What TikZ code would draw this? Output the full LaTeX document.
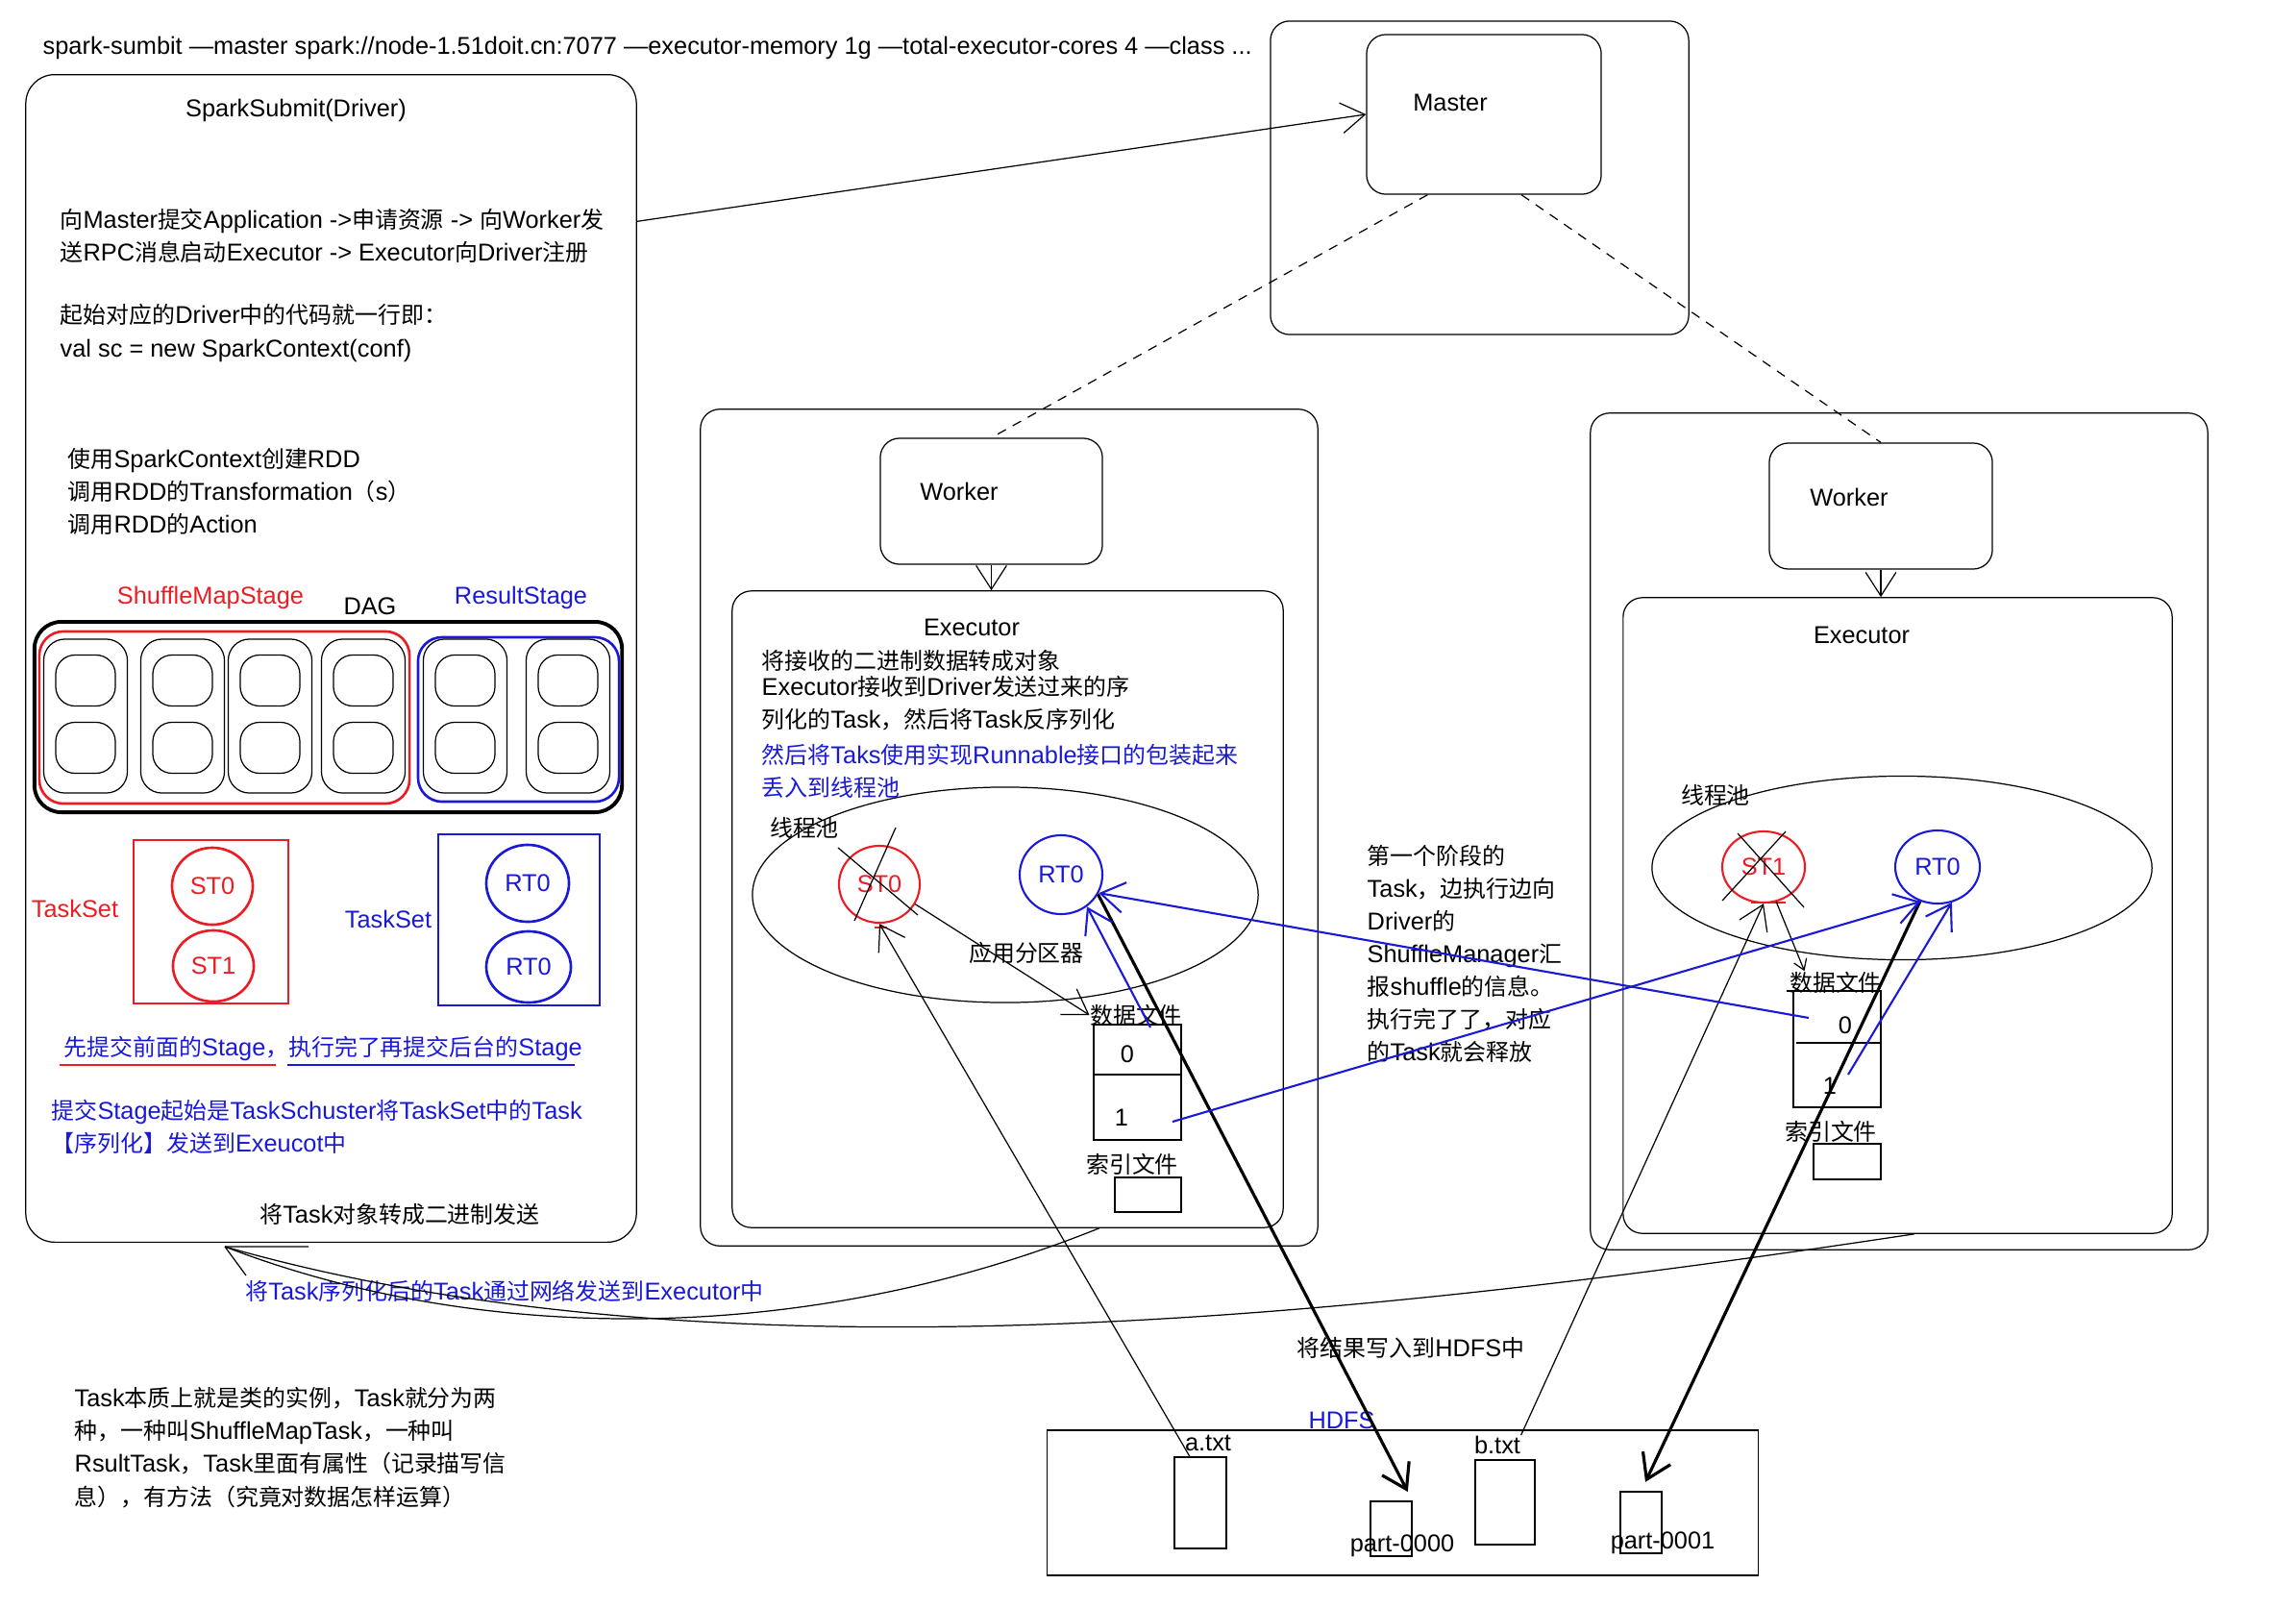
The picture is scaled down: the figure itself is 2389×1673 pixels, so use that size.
\documentclass[tikz,border=0pt]{standalone}
\usepackage{fontspec}
\setmainfont[Scale=1.06]{Liberation Sans}
\newfontfamily\latinfont[Scale=1.06]{Liberation Sans}
\newfontfamily\cjkfont{Noto Sans CJK SC}
% CJK characters switch to the CJK font
\XeTeXinterchartokenstate=1
\newXeTeXintercharclass\cjkclass
\makeatletter
\count@="3000
\loop
  \XeTeXcharclass\count@=\cjkclass
  \advance\count@ by 1
\ifnum\count@<"A000 \repeat
\count@="FF00
\loop
  \XeTeXcharclass\count@=\cjkclass
  \advance\count@ by 1
\ifnum\count@<"FFF0 \repeat
\makeatother
\XeTeXinterchartoks 0 \cjkclass = {\cjkfont}
\XeTeXinterchartoks 4095 \cjkclass = {\cjkfont}
\XeTeXinterchartoks \cjkclass 0 = {\latinfont}
\XeTeXinterchartoks \cjkclass 4095 = {\latinfont}
\usetikzlibrary{shapes.geometric, arrows.meta, positioning}
\definecolor{stagered}{RGB}{236,28,36}
\definecolor{stageblue}{RGB}{25,25,215}

\begin{document}
\begin{tikzpicture}[
    x=0.01cm, y=-0.01cm,
    font=\fontsize{6.8}{9.7}\selectfont,
    fine/.style={line width=0.35pt},
    frame/.style={draw, fine, rounded corners=0.2cm, inner sep=0pt},
    filebox/.style={draw, fine, inner sep=0pt},
    txt/.style={inner sep=0pt, anchor=west, align=left},
    lbl/.style={inner sep=0pt},
    stagebox/.style={draw, line width=0.75pt, rounded corners=0.25cm, inner sep=0pt},
    col/.style={draw, fine, rounded corners=0.22cm, inner sep=0pt, minimum width=0.87cm, minimum height=1.6cm},
    cell/.style={draw, fine, rounded corners=0.2cm, inner sep=0pt, minimum width=0.62cm, minimum height=0.53cm},
    task/.style={ellipse, draw, line width=0.75pt, inner sep=0pt},
    pool/.style={ellipse, draw, fine, inner sep=0pt},
    barb/.style={-{Straight Barb[length=7pt,width=9pt]}},
    masterlink/.style={fine, dash pattern=on 2.8pt off 2.3pt},
    report/.style={stageblue, line width=0.6pt, barb},
    result/.style={line width=0.9pt, barb, shorten >=3pt}
]
    \useasboundingbox (0,0) rectangle (2389,1673);

    % command line
    \node[txt] (cmd) at (44,50) {spark-sumbit —master spark://node-1.51doit.cn:7077 —executor-memory 1g —total-executor-cores 4 —class ...};

    % Driver
    \node[frame, rounded corners=0.3cm, minimum width=6.35cm, minimum height=12.14cm] (driver) at (344.5,685) {};
    \node[lbl] (drvtitle) at (308,115) {SparkSubmit(Driver)};
    \node[txt] (drvsteps) at (62,245) {向Master提交Application ->申请资源 -> 向Worker发\\送RPC消息启动Executor -> Executor向Driver注册};
    \node[txt] (drvcode) at (62,346.5) {起始对应的Driver中的代码就一行即：\\val sc = new SparkContext(conf)};
    \node[txt] (drvrdd) at (70,511.5) {使用SparkContext创建RDD\\调用RDD的Transformation（s）\\调用RDD的Action};

    % DAG
    \node[stagebox, line width=1.1pt, rounded corners=0.28cm, minimum width=6.11cm, minimum height=1.98cm] (dag) at (341.5,746) {};
    \node[stagebox, draw=stagered, minimum width=3.85cm, minimum height=1.79cm] (smstage) at (233.5,746.5) {};
    \node[stagebox, draw=stageblue, minimum width=2.09cm, minimum height=1.71cm] (rstage) at (539.5,748.5) {};
    \foreach \cx [count=\i] in {89,190,281,378,484,591} {
        \node[col] (col\i) at (\cx,745) {};
        \node[cell] (cellA\i) at (\cx,708) {};
        \node[cell] (cellB\i) at (\cx,778) {};
    }
    \node[lbl, text=stagered] (smlabel) at (219,622) {ShuffleMapStage};
    \node[lbl] (daglabel) at (385,631) {DAG};
    \node[lbl, text=stageblue] (rslabel) at (542,622) {ResultStage};

    % TaskSets
    \node[draw=stagered, line width=0.75pt, inner sep=0pt, minimum width=1.61cm, minimum height=1.70cm] (redset) at (219.5,959) {};
    \node[task, draw=stagered, text=stagered, minimum width=0.84cm, minimum height=0.80cm] (st0a) at (221,922) {ST0};
    \node[task, draw=stagered, text=stagered, minimum width=0.84cm, minimum height=0.74cm] (st1a) at (222,1005) {ST1};
    \node[lbl, text=stagered] (redsetlbl) at (78,945) {TaskSet};
    \node[draw=stageblue, line width=0.75pt, inner sep=0pt, minimum width=1.68cm, minimum height=1.78cm] (blueset) at (540,957) {};
    \node[task, draw=stageblue, text=stageblue, minimum width=0.86cm, minimum height=0.80cm] (rt0a) at (549,919) {RT0};
    \node[task, draw=stageblue, text=stageblue, minimum width=0.88cm, minimum height=0.74cm] (rt0b) at (550,1006) {RT0};
    \node[lbl, text=stageblue] (bluesetlbl) at (404,956) {TaskSet};

    \node[txt, text=stageblue] (order) at (66,1091) {先提交前面的Stage，执行完了再提交后台的Stage};
    \draw[stagered, line width=0.7pt] (62,1108) -- (287,1108);
    \draw[stageblue, line width=0.7pt] (299,1108) -- (598,1108);
    \node[txt, text=stageblue] (submit) at (53,1172.5) {提交Stage起始是TaskSchuster将TaskSet中的Task\\【序列化】发送到Exeucot中};
    \node[lbl] (binary) at (416,1263) {将Task对象转成二进制发送};

    % Master
    \node[frame, minimum width=4.35cm, minimum height=3.26cm] (masterarea) at (1539.5,185) {};
    \node[frame, minimum width=2.44cm, minimum height=1.66cm] (master) at (1544,119) {};
    \node[lbl] (masterlbl) at (1509,107) {Master};

    % Worker 1
    \node[frame, minimum width=6.42cm, minimum height=8.70cm] (node1) at (1050,861) {};
    \node[frame, minimum width=2.31cm, minimum height=1.31cm] (worker1) at (1031.5,521.5) {};
    \node[lbl] (worker1lbl) at (998,511) {Worker};
    \node[frame, minimum width=5.73cm, minimum height=6.62cm] (exec1) at (1048.5,946) {};
    \node[lbl] (exec1lbl) at (1011,653) {Executor};
    \node[txt] (decode) at (792,687) {将接收的二进制数据转成对象};
    \node[txt] (deser) at (792,732) {Executor接收到Driver发送过来的序\\列化的Task，然后将Task反序列化};
    \node[txt, text=stageblue] (wrap) at (792,802) {然后将Taks使用实现Runnable接口的包装起来\\丢入到线程池};
    \node[pool, minimum width=5.26cm, minimum height=2.24cm] (pool1) at (1046,931) {};
    \node[lbl] (pool1lbl) at (837,861) {线程池};
    \node[task, line width=0.6pt, draw=stagered, text=stagered, minimum width=0.84cm, minimum height=0.80cm] (st0b) at (915,920) {ST0};
    \node[task, line width=0.6pt, draw=stageblue, text=stageblue, minimum width=0.86cm, minimum height=0.82cm] (rt0c) at (1104,910) {RT0};
    \draw[fine] (872,882) -- (955,952) (932,861) -- (889,958);
    \draw[stagered, fine] (910,965) -- (923,965);
    \node[lbl] (partitioner) at (1068,991) {应用分区器};
    \node[lbl] (data1lbl) at (1182,1056) {数据文件};
    \node[filebox, minimum width=0.91cm, minimum height=1.20cm] (data1) at (1183.5,1126) {};
    \draw[fine] (1138,1118) -- (1229,1118);
    \node[lbl] (d1zero) at (1173,1097) {0};
    \node[lbl] (d1one) at (1167,1163) {1};
    \node[lbl] (index1lbl) at (1178,1211) {索引文件};
    \node[filebox, minimum width=0.69cm, minimum height=0.36cm] (index1) at (1194.5,1243) {};

    % Worker 2
    \node[frame, minimum width=6.42cm, minimum height=8.70cm] (node2) at (1976,865) {};
    \node[frame, minimum width=2.32cm, minimum height=1.31cm] (worker2) at (1957,526.5) {};
    \node[lbl] (worker2lbl) at (1924,517) {Worker};
    \node[frame, minimum width=5.71cm, minimum height=6.61cm] (exec2) at (1974.5,952.5) {};
    \node[lbl] (exec2lbl) at (1937,661) {Executor};
    \node[pool, minimum width=5.20cm, minimum height=1.91cm] (pool2) at (1979,903) {};
    \node[lbl] (pool2lbl) at (1785,827) {线程池};
    \node[task, line width=0.6pt, draw=stagered, text=stagered, minimum width=0.86cm, minimum height=0.74cm] (st1b) at (1835,902) {ST1};
    \node[task, line width=0.6pt, draw=stageblue, text=stageblue, minimum width=0.88cm, minimum height=0.76cm] (rt0d) at (2016,902) {RT0};
    \draw[fine] (1808,867) -- (1877,944) (1858,865) -- (1792,937);
    \draw[stagered, fine] (1822,939) -- (1858,939);
    \node[lbl] (data2lbl) at (1910,1022) {数据文件};
    \node[filebox, minimum width=0.91cm, minimum height=1.21cm] (data2) at (1911.5,1091.5) {};
    \draw[fine] (1859,1031) -- (1958,1031);
    \draw[fine] (1869,1085) -- (1958,1085);
    \node[lbl] (d2zero) at (1920,1067) {0};
    \node[lbl] (d2one) at (1904,1130) {1};
    \node[lbl] (index2lbl) at (1905,1177) {索引文件};
    \node[filebox, minimum width=0.70cm, minimum height=0.37cm] (index2) at (1922,1208.5) {};

    \node[txt] (shufnote) at (1422,992.5) {第一个阶段的\\Task，边执行边向\\Driver的\\ShuffleManager汇\\报shuffle的信息。\\执行完了了，对应\\的Task就会释放};

    % HDFS
    \node[filebox, minimum width=7.39cm, minimum height=1.51cm] (hdfs) at (1459.5,1563.5) {};
    \node[lbl, text=stageblue] (hdfslbl) at (1396,1478) {HDFS};
    \node[filebox, minimum width=0.54cm, minimum height=0.95cm] (atxt) at (1249,1563.5) {};
    \node[lbl] (atxtlbl) at (1257,1501) {a.txt};
    \node[filebox, minimum width=0.43cm, minimum height=0.57cm] (part0) at (1447.5,1590.5) {};
    \node[lbl] (part0lbl) at (1459,1608) {part-0000};
    \node[filebox, minimum width=0.62cm, minimum height=0.88cm] (btxt) at (1566,1563) {};
    \node[lbl] (btxtlbl) at (1558,1503) {b.txt};
    \node[filebox, minimum width=0.43cm, minimum height=0.64cm] (part1) at (1707.5,1584) {};
    \node[lbl] (part1lbl) at (1730,1605) {part-0001};
    \node[lbl] (writehdfs) at (1468,1402) {将结果写入到HDFS中};

    \node[lbl, text=stageblue] (sendnote) at (525,1343) {将Task序列化后的Task通过网络发送到Executor中};
    \node[txt] (tasknote) at (77,1506) {Task本质上就是类的实例，Task就分为两\\种，一种叫ShuffleMapTask，一种叫\\RsultTask，Task里面有属性（记录描写信\\息），有方法（究竟对数据怎样运算）};

    % connectors
    \draw[fine, barb] (driver.55.6) -- (master.west);
    \draw[masterlink] (master.235.5) -- (worker1.north);
    \draw[masterlink] (master.-65.4) -- (worker2.north);
    \draw[fine, barb] (worker1.south) -- (worker1.south |- exec1.north);
    \draw[fine, barb] (worker2.south) -- (worker2.south |- exec2.north);
    \draw[fine, barb] (st0b.-29.5) -- (data1lbl.west);
    \draw[fine, -{Straight Barb[length=3pt,width=4pt]}] (st1b.-70) -- (data2lbl.160);
    \draw[fine, barb] (atxt.103) -- (st0b.south);
    \draw[fine, barb] (btxtlbl.north east) -- (st1b.south);
    \draw[result] (rt0c.-28) -- (part0.north east);
    \draw[result] (rt0d.-117) -- (part1.north);

    \coordinate (d2src0) at (1882,1059);
    \coordinate (d1src1) at (1220,1167);
    \coordinate (d1src0) at (1197,1069);
    \coordinate (d2src1) at (1923,1118);
    \draw[report] (d2src0) -- (rt0c.-26);
    \draw[report] (d1src1) -- (rt0d.-116);
    \draw[report] (d1src0) -- (rt0c.-51);
    \draw[report] (d2src1) -- (rt0d.-68);

    % tasks sent back to the driver
    \coordinate (drvtip) at (234,1297);
    \draw[fine] (exec1.-74.5) .. controls (840,1400) and (500,1400) .. (drvtip);
    \draw[fine] (exec2.-87.3) .. controls (1390,1375) and (734,1440) .. (drvtip);
    \draw[fine] (drvtip) -- +(87,0) (drvtip) -- +(22,30);
\end{tikzpicture}
\end{document}
